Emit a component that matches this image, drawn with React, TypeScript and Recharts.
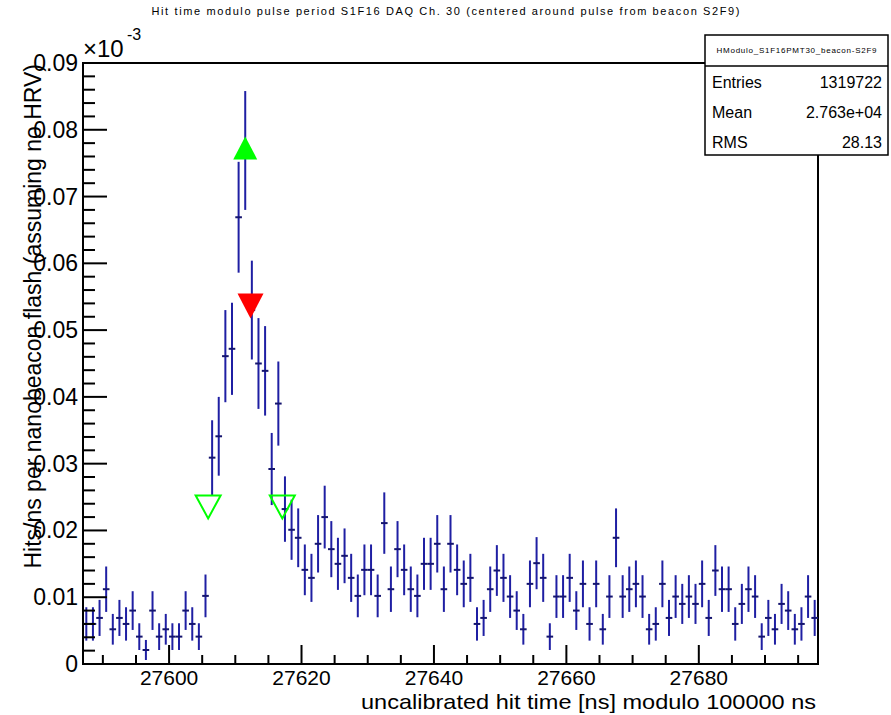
import { ComposedChart, XAxis, YAxis, Scatter, ErrorBar, ReferenceArea } from "recharts";

const font = "'Liberation Sans', Arial, Helvetica, sans-serif";

const title =
  "Hit time modulo pulse period S1F16 DAQ Ch. 30 (centered around pulse from beacon S2F9)";
const histName = "HModulo_S1F16PMT30_beacon-S2F9";
const xTitle = "uncalibrated hit time [ns] modulo 100000 ns";
const yTitle = "Hits/ns per nanobeacon flash (assuming no HRV)";

// 1 ns bins from 27587 to 27698
const binLow = 27587;
const binHigh = 27698;
const binWidth = 1;

// hits/ns per flash (x10^-3), one per bin
const hitRate = [
  0.006, 0.006, 0.0069, 0.0112, 0.0052, 0.0069, 0.006, 0.008, 0.0041, 0.0021,
  0.008, 0.0041, 0.0052, 0.0041, 0.0041, 0.008, 0.006, 0.0041, 0.0102, 0.0309,
  0.0341, 0.0461, 0.0472, 0.0669, 0.0769, 0.053, 0.045, 0.0439, 0.0292, 0.039,
  0.0232, 0.0201, 0.0189, 0.0141, 0.0129, 0.018, 0.022, 0.0172, 0.015, 0.0162,
  0.0129, 0.0102, 0.0141, 0.0141, 0.0102, 0.0211, 0.0112, 0.0172, 0.0141, 0.0112,
  0.0102, 0.015, 0.015, 0.018, 0.0112, 0.018, 0.0141, 0.012, 0.0129, 0.006,
  0.0069, 0.0112, 0.014, 0.0129, 0.0101, 0.008, 0.0052, 0.012, 0.0151, 0.0129,
  0.0041, 0.0101, 0.0101, 0.0129, 0.008, 0.012, 0.006, 0.012, 0.0052, 0.0101,
  0.0189, 0.0101, 0.0112, 0.012, 0.0101, 0.0052, 0.006, 0.012, 0.0069, 0.0101,
  0.009, 0.0101, 0.009, 0.012, 0.0069, 0.014, 0.0112, 0.0112, 0.006, 0.009,
  0.0112, 0.0101, 0.0041, 0.0069, 0.0052, 0.009, 0.008, 0.0052, 0.006, 0.0101,
  0.0069,
];

// error bar half-lengths
const hitErr = [
  0.0025, 0.0025, 0.0027, 0.0034, 0.0023, 0.0027, 0.0025, 0.0029, 0.002, 0.0015,
  0.0029, 0.002, 0.0023, 0.002, 0.002, 0.0029, 0.0025, 0.002, 0.0032, 0.0056,
  0.0059, 0.0069, 0.0069, 0.0083, 0.0089, 0.0074, 0.0068, 0.0067, 0.0054, 0.0063,
  0.0049, 0.0045, 0.0044, 0.0038, 0.0036, 0.0043, 0.0047, 0.0042, 0.0039, 0.0041,
  0.0036, 0.0032, 0.0038, 0.0038, 0.0032, 0.0046, 0.0034, 0.0042, 0.0038, 0.0034,
  0.0032, 0.0039, 0.0039, 0.0043, 0.0034, 0.0043, 0.0038, 0.0035, 0.0036, 0.0025,
  0.0027, 0.0034, 0.0038, 0.0036, 0.0032, 0.0029, 0.0023, 0.0035, 0.0039, 0.0036,
  0.002, 0.0032, 0.0032, 0.0036, 0.0029, 0.0035, 0.0025, 0.0035, 0.0023, 0.0032,
  0.0044, 0.0032, 0.0034, 0.0035, 0.0032, 0.0023, 0.0025, 0.0035, 0.0027, 0.0032,
  0.003, 0.0032, 0.003, 0.0035, 0.0027, 0.0038, 0.0034, 0.0034, 0.0025, 0.003,
  0.0034, 0.0032, 0.002, 0.0027, 0.0023, 0.003, 0.0029, 0.0023, 0.0025, 0.0032,
  0.0027,
];

const xTicks = [
  27590, 27595, 27600, 27605, 27610, 27615, 27620, 27625, 27630, 27635, 27640,
  27645, 27650, 27655, 27660, 27665, 27670, 27675, 27680, 27685, 27690, 27695,
];
const yTicks = [
  0, 0.002, 0.004, 0.006, 0.008, 0.01, 0.012, 0.014, 0.016, 0.018, 0.02, 0.022,
  0.024, 0.026, 0.028, 0.03, 0.032, 0.034, 0.036, 0.038, 0.04, 0.042, 0.044,
  0.046, 0.048, 0.05, 0.052, 0.054, 0.056, 0.058, 0.06, 0.062, 0.064, 0.066,
  0.068, 0.07, 0.072, 0.074, 0.076, 0.078, 0.08, 0.082, 0.084, 0.086, 0.088, 0.09,
];

const statLabels = ["Entries", "Mean", "RMS"];
const statValues = ["1319722", "2.763e+04", "28.13"];

const peakMarker = [{ x: 27611.5, y: 0.0772 }];
const fallMarker = [{ x: 27612.3, y: 0.0537 }];
const edgeMarkers = [
  { x: 27605.9, y: 0.0236 },
  { x: 27617.1, y: 0.0236 },
];

const bins = hitRate.map((v, i) => ({
  x: binLow + (i + 0.5) * binWidth,
  y: v,
  err: hitErr[i],
  half: binWidth / 2,
}));

function XTick(props: any) {
  const { x, y, payload } = props;
  const major = payload.value % 20 === 0;
  return (
    <g>
      <line x1={x} x2={x} y1={y} y2={y - (major ? 19 : 9)} stroke="#000" strokeWidth={2} />
      {major && (
        <text x={x} y={y + 21} textAnchor="middle" fontSize={21} fontFamily={font} fill="#000">
          {payload.value}
        </text>
      )}
    </g>
  );
}

function YTick(props: any) {
  const { x, y, payload } = props;
  const hundredths = payload.value * 100;
  const major = Math.abs(hundredths - Math.round(hundredths)) < 1e-6;
  return (
    <g>
      <line x1={x} x2={x + (major ? 24 : 12)} y1={y} y2={y} stroke="#000" strokeWidth={2} />
      {major && (
        <text x={x - 5} y={y + 8} textAnchor="end" fontSize={23} fontFamily={font} fill="#000">
          {payload.value === 0 ? "0" : payload.value.toFixed(2)}
        </text>
      )}
    </g>
  );
}

const noPoint = () => <g />;

function UpTriangle(props: any) {
  const { cx, cy } = props;
  return (
    <polygon
      points={`${cx - 12},${cy + 11} ${cx + 12},${cy + 11} ${cx},${cy - 12}`}
      fill="#00ff00"
    />
  );
}

function DownTriangle(props: any) {
  const { cx, cy } = props;
  return (
    <polygon
      points={`${cx - 13},${cy - 12} ${cx + 13},${cy - 12} ${cx},${cy + 13}`}
      fill="#ff0000"
    />
  );
}

function OpenDownTriangle(props: any) {
  const { cx, cy } = props;
  return (
    <polygon
      points={`${cx - 12.5},${cy - 11} ${cx + 12.5},${cy - 11} ${cx},${cy + 12}`}
      fill="none"
      stroke="#00ff00"
      strokeWidth={2}
    />
  );
}

export default function App() {
  return (
    <div
      style={{
        position: "absolute",
        left: 0,
        top: 0,
        width: 891,
        height: 715,
        background: "#fff",
        fontFamily: font,
      }}
    >
      <ComposedChart
        width={891}
        height={715}
        data={bins}
        margin={{ top: 63, right: 73, bottom: 0, left: 0 }}
      >
        <XAxis
          type="number"
          dataKey="x"
          domain={[binLow, binHigh]}
          ticks={xTicks}
          interval={0}
          tick={XTick}
          tickLine={false}
          tickSize={0}
          tickMargin={0}
          axisLine={false}
          height={51}
          allowDataOverflow
        />
        <YAxis
          type="number"
          dataKey="y"
          domain={[0, 0.09]}
          ticks={yTicks}
          interval={0}
          tick={YTick}
          tickLine={false}
          tickSize={0}
          tickMargin={0}
          axisLine={false}
          width={83}
          allowDataOverflow
        />
        <ReferenceArea
          x1={binLow}
          x2={binHigh}
          y1={0}
          y2={0.09}
          fill="none"
          stroke="#000"
          strokeWidth={2}
          ifOverflow="visible"
        />
        <Scatter data={bins} shape={noPoint} isAnimationActive={false}>
          <ErrorBar dataKey="err" direction="y" width={0} stroke="#1f1fa3" strokeWidth={2} />
          <ErrorBar dataKey="half" direction="x" width={0} stroke="#14146e" strokeWidth={2} />
        </Scatter>
        <Scatter data={peakMarker} shape={UpTriangle} isAnimationActive={false} />
        <Scatter data={fallMarker} shape={DownTriangle} isAnimationActive={false} />
        <Scatter data={edgeMarkers} shape={OpenDownTriangle} isAnimationActive={false} />
      </ComposedChart>

      <svg
        width={891}
        height={715}
        style={{ position: "absolute", left: 0, top: 0, pointerEvents: "none" }}
        fontFamily={font}
      >
        <text x={445.5} y={15} textAnchor="middle" fontSize={11} textLength={588} lengthAdjust="spacing">
          {title}
        </text>

        <text x={83} y={57} fontSize={24}>
          ×10
        </text>
        <text x={127} y={40} fontSize={16}>
          -3
        </text>

        <text transform="translate(33,64) rotate(-90)" textAnchor="end" dominantBaseline="central" fontSize={23}>
          {yTitle}
        </text>
        <text x={816} y={709} textAnchor="end" fontSize={21} textLength={455} lengthAdjust="spacingAndGlyphs">
          {xTitle}
        </text>

        <rect x={705} y={35} width={183} height={120} fill="#fff" stroke="#000" strokeWidth={1.5} />
        <line x1={705} x2={888} y1={66} y2={66} stroke="#000" strokeWidth={1.5} />
        <text x={796.5} y={53} textAnchor="middle" fontSize={8} textLength={160} lengthAdjust="spacing">
          {histName}
        </text>
        {statLabels.map((label, i) => (
          <g key={label}>
            <text x={712} y={82 + i * 30} dominantBaseline="central" fontSize={16}>
              {label}
            </text>
            <text x={882} y={82 + i * 30} dominantBaseline="central" textAnchor="end" fontSize={16}>
              {statValues[i]}
            </text>
          </g>
        ))}
      </svg>
    </div>
  );
}
